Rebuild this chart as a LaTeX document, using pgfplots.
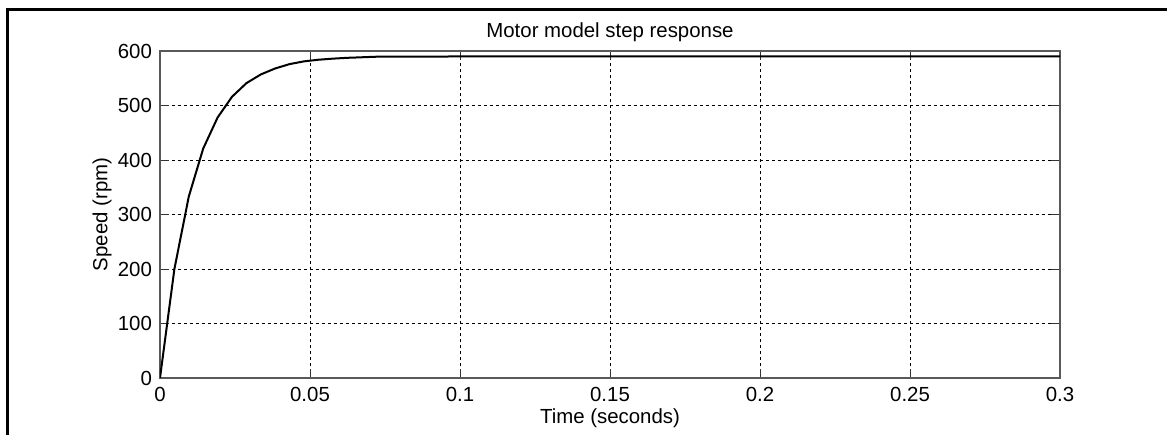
\documentclass[border=0pt]{standalone}
\usepackage{pgfplots}
\pgfplotsset{compat=1.18}
\usepackage{fontspec}
\setmainfont{Liberation Sans}

\begin{document}
\begin{tikzpicture}
  \begin{axis}[
    at={(0,0)}, anchor=south west,
    scale only axis,
    width=450pt, height=163.5pt,
    xmin=0, xmax=0.3, ymin=0, ymax=600,
    xtick={0,0.05,...,0.3},
    ytick={0,100,...,600},
    xticklabels={0,0.05,0.1,0.15,0.2,0.25,0.3},
    scaled x ticks=false,
    /pgf/number format/assume math mode=true,
    tick align=inside, major tick length=4.5pt,
    xtick pos=both, ytick pos=both,
    xticklabel pos=bottom, yticklabel pos=left,
    tick style={black!80, line width=0.5pt},
    axis line style={black!65, line width=0.6pt},
    grid=major,
    grid style={black, dash pattern=on 1.5pt off 1.5pt, line width=0.4pt},
    ticklabel style={font=\fontsize{10.2}{12}\selectfont},
    xticklabel style={yshift=-1pt},
    yticklabel style={xshift=-0.5pt},
    title={Motor model step response},
    title style={at={(axis description cs:0.5,1.0627)}, anchor=center, yshift=-7pt, font=\fontsize{10.2}{12}\selectfont},
    xlabel={Time (seconds)},
    xlabel style={at={(axis description cs:0.5,-0.122)}, anchor=center, font=\fontsize{10.2}{12}\selectfont},
    ylabel={Speed (rpm)},
    ylabel style={at={(axis description cs:-0.0644,0.5)}, anchor=center, font=\fontsize{10.2}{12}\selectfont},
  ]
    \addplot[black, line width=1pt] coordinates {
      (0, 0)
      (0.0048, 200)
      (0.0096, 333)
      (0.0144, 421)
      (0.0192, 478)
      (0.0240, 516)
      (0.0288, 541)
      (0.0336, 557)
      (0.0384, 568)
      (0.0432, 576)
      (0.0480, 581)
      (0.0528, 584)
      (0.0576, 586)
      (0.0624, 587.5)
      (0.0672, 588.5)
      (0.0720, 589.5)
      (0.1000, 590)
      (0.3000, 590)
    };
  \end{axis}
  % outer figure frame (top and left edges only)
  \draw[black, line width=1.6pt] (-76.25pt,-28.5pt) -- (-76.25pt,184.25pt) -- (503.5pt,184.25pt);
  \pgfresetboundingbox
  \useasboundingbox (-80pt,-28.5pt) rectangle (503.5pt,189pt);
\end{tikzpicture}
\end{document}
